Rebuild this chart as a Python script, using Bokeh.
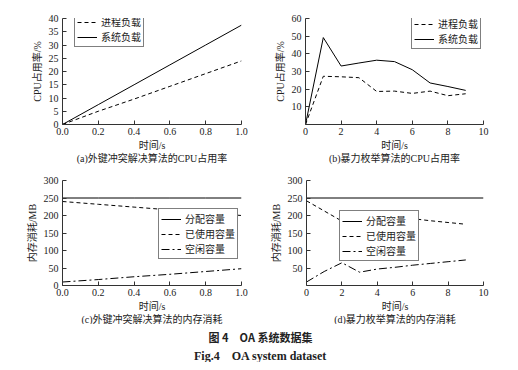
from bokeh.plotting import figure
from bokeh.layouts import column, row
from bokeh.models import Range1d, FixedTicker, NumeralTickFormatter, Legend, LegendItem, Label, Title
from bokeh.embed import file_html
from bokeh.resources import INLINE

# ---------------- data ----------------
t_a = [0.0, 0.2, 0.4, 0.6, 0.8, 1.0]
proc_a = [0.0, 5.0, 9.6, 14.4, 19.2, 24.0]
sys_a = [0.0, 7.5, 15.0, 22.5, 30.0, 37.5]

t_b = [0, 1, 2, 3, 4, 5, 6, 7, 8, 9]
proc_b = [0.0, 27.3, 27.0, 26.5, 18.7, 18.9, 17.6, 18.9, 16.3, 17.4]
sys_b = [0.0, 49.2, 33.1, 34.8, 36.4, 35.6, 31.0, 23.5, 21.5, 19.3]

t_c = [0.0, 0.2, 0.4, 0.6, 0.8, 1.0]
alloc_c = [250, 250, 250, 250, 250, 250]
used_c = [240, 232, 224, 216, 208, 200]
free_c = [10, 17, 25, 32, 40, 48]

t_d_alloc = [0, 10]
alloc_d = [250, 250]
t_d = [0, 1, 2, 3, 4, 5, 6, 7, 8, 9]
used_d = [242, 213, 184, 211, 205, 198, 191, 185, 180, 175]
free_d = [10, 40, 65, 38, 47, 52, 58, 63, 68, 73]

label_proc = "进程负载"
label_sys = "系统负载"
label_alloc = "分配容量"
label_used = "已使用容量"
label_free = "空闲容量"

captions = ["(a)外键冲突解决算法的CPU占用率", "(b)暴力枚举算法的CPU占用率",
            "(c)外键冲突解决算法的内存消耗", "(d)暴力枚举算法的内存消耗"]
ylab_cpu = "CPU占用率/%"
ylab_mem = "内存消耗/MB"
xlab = "时间/s"
fig_title_cn = "图 4\u3000OA 系统数据集"
fig_title_en = "Fig.4\u00a0\u00a0\u00a0\u00a0OA system dataset"

FONT = "Liberation Serif, Noto Sans CJK SC"
FS = "10px"
TXT = "#222222"
DASH = "4 3"
DASHDOT = "8 3 2 3"


def make_fig(w, h, bl, br, bt, bb, xr, yr, xticks, yticks, xfmt, ylabel, caption):
    p = figure(width=w, height=h, output_backend="svg", toolbar_location=None,
               x_range=Range1d(*xr), y_range=Range1d(*yr),
               min_border_left=bl, min_border_right=br, min_border_top=bt, min_border_bottom=bb)
    p.outline_line_color = None
    p.grid.visible = False
    p.background_fill_color = "white"
    p.border_fill_color = "white"
    for ax in (p.xaxis[0], p.yaxis[0]):
        ax.major_tick_in = 4
        ax.major_tick_out = 0
        ax.minor_tick_line_color = None
        ax.axis_line_color = "#333333"
        ax.major_tick_line_color = "#333333"
        ax.major_label_text_font = FONT
        ax.major_label_text_font_size = FS
        ax.major_label_text_color = TXT
        ax.axis_label_text_font = FONT
        ax.axis_label_text_font_size = FS
        ax.axis_label_text_font_style = "normal"
        ax.axis_label_text_color = TXT
    p.xaxis[0].major_label_standoff = 3
    p.yaxis[0].major_label_standoff = 4
    p.xaxis[0].ticker = FixedTicker(ticks=xticks)
    p.yaxis[0].ticker = FixedTicker(ticks=yticks)
    if xfmt:
        p.xaxis[0].formatter = NumeralTickFormatter(format=xfmt)
    p.xaxis[0].axis_label = xlab
    p.xaxis[0].axis_label_standoff = 2
    p.yaxis[0].axis_label = ylabel
    p.yaxis[0].axis_label_standoff = 3
    t = Title(text=caption, align="center", text_font=FONT, text_font_size=FS,
              text_font_style="normal", text_color=TXT, standoff=-6, offset=0)
    p.add_layout(t, "below")
    return p


def add_legend(p, items, x, y):
    lg = Legend(items=items, location=(x, y), border_line_color="black", border_line_width=1,
                label_text_font=FONT, label_text_font_size="10px",
                label_text_color=TXT, label_text_line_height=1.0,
                label_height=10, glyph_height=10, glyph_width=20, label_standoff=4,
                padding=2, spacing=-4, margin=0, background_fill_alpha=1.0)
    p.add_layout(lg, "center")


# (a)
pa = make_fig(259, 170, 62, 18, 18, 46, (0, 1.0), (0, 40),
              [0, 0.2, 0.4, 0.6, 0.8, 1.0], [0, 5, 10, 15, 20, 25, 30, 35, 40], "0.0",
              ylab_cpu, captions[0])
ra1 = pa.line(t_a, proc_a, line_color="black", line_width=1, line_dash=DASH)
ra2 = pa.line(t_a, sys_a, line_color="black", line_width=1)
add_legend(pa, [LegendItem(label=label_proc, renderers=[ra1]),
                LegendItem(label=label_sys, renderers=[ra2])], 12, 77)

# (b)
pb = make_fig(251, 170, 46, 27, 18, 46, (0, 10), (0, 60),
              [0, 2, 4, 6, 8, 10], [10, 20, 30, 40, 50, 60], None,
              ylab_cpu, captions[1])
rb1 = pb.line(t_b, proc_b, line_color="black", line_width=1, line_dash=DASH)
rb2 = pb.line(t_b, sys_b, line_color="black", line_width=1)
add_legend(pb, [LegendItem(label=label_proc, renderers=[rb1]),
                LegendItem(label=label_sys, renderers=[rb2])], 106, 75)

# (c)
pc = make_fig(259, 154, 62, 18, 10, 39, (0, 1.0), (0, 300),
              [0, 0.2, 0.4, 0.6, 0.8, 1.0], [0, 50, 100, 150, 200, 250, 300], "0.0",
              ylab_mem, captions[2])
rc1 = pc.line(t_c, alloc_c, line_color="black", line_width=1)
rc2 = pc.line(t_c, used_c, line_color="black", line_width=1, line_dash=DASH)
rc3 = pc.line(t_c, free_c, line_color="black", line_width=1, line_dash=DASHDOT)
add_legend(pc, [LegendItem(label=label_alloc, renderers=[rc1]),
                LegendItem(label=label_used, renderers=[rc2]),
                LegendItem(label=label_free, renderers=[rc3])], 96, 26)

# (d)
pd_ = make_fig(251, 154, 47, 27, 9, 39, (0, 10), (0, 300),
               [0, 2, 4, 6, 8, 10], [50, 100, 150, 200, 250, 300], None,
               ylab_mem, captions[3])
rd1 = pd_.line(t_d_alloc, alloc_d, line_color="black", line_width=1)
rd2 = pd_.line(t_d, used_d, line_color="black", line_width=1, line_dash=DASH)
rd3 = pd_.line(t_d, free_d, line_color="black", line_width=1, line_dash=DASHDOT)
add_legend(pd_, [LegendItem(label=label_alloc, renderers=[rd1]),
                 LegendItem(label=label_used, renderers=[rd2]),
                 LegendItem(label=label_free, renderers=[rd3])], 33, 24)

# figure caption
cap = figure(width=510, height=38, output_backend="svg", toolbar_location=None,
             x_range=Range1d(0, 1), y_range=Range1d(0, 1), min_border=0)
cap.axis.visible = False
cap.grid.visible = False
cap.outline_line_color = None
cap.add_layout(Label(x=260, y=26, x_units="screen", y_units="screen",
                     text=fig_title_cn, text_align="center", text_baseline="middle",
                     text_font="Noto Sans CJK SC", text_font_size="11px", text_font_style="bold",
                     text_color=TXT))
cap.add_layout(Label(x=260, y=7, x_units="screen", y_units="screen",
                     text=fig_title_en, text_align="center", text_baseline="middle",
                     text_font="Liberation Serif", text_font_size="12px", text_font_style="bold",
                     text_color=TXT))

layout = column(row(pa, pb), row(pc, pd_), cap)
open("out.html", "w").write(file_html(layout, INLINE))
